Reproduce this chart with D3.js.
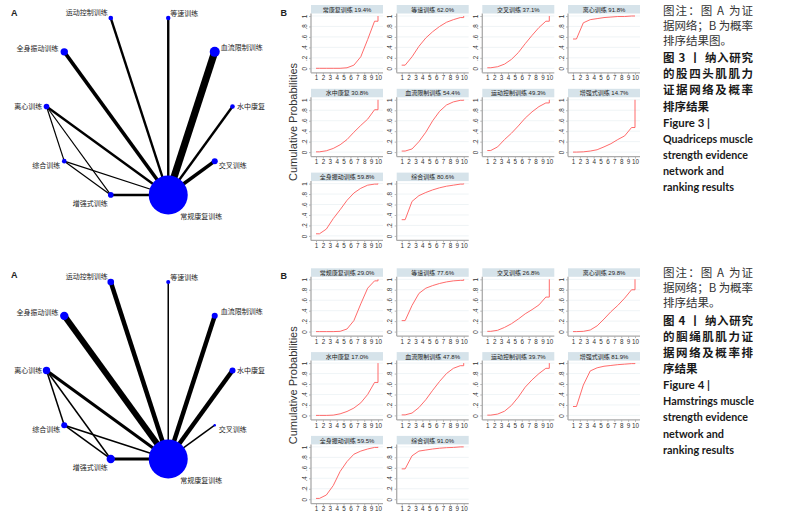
<!DOCTYPE html>
<html><head><meta charset="utf-8">
<script src="https://cdn.jsdelivr.net/npm/d3@7"></script>
<style>body{margin:0;background:#fff}svg{display:block}</style>
</head><body>
<svg id="c" width="804" height="522"></svg>
<script>
// ---------------- DATA ----------------
const nodeNames = ["运动控制训练","等速训练","血流限制训练","水中康复","交叉训练","常规康复训练","增强式训练","综合训练","离心训练","全身振动训练"];
// node weights (area ~ weight)
const nodeSize3 = [14,13,66,14,24,1000,21,14,21,36];
const nodeSize4 = [29,11,24,24,4,1000,46,24,36,46];
// edges: [source, target, number of studies]
const edges3 = [[5,0,2],[5,1,2],[5,2,6],[5,3,2],[5,4,3],[5,6,2],[5,7,1],[5,8,2],[5,9,3],[8,7,1],[8,6,1],[7,6,1]];
const edges4 = [[5,0,3],[5,1,1],[5,2,3],[5,3,3],[5,4,1],[5,6,2],[5,7,1],[5,8,2],[5,9,4],[8,7,1],[8,6,1],[7,6,1]];

const rankTicks = [1,2,3,4,5,6,7,8,9,10];
const probTicks = [0,0.2,0.4,0.6,0.8,1];
const probTickLabels = ["0",".2",".4",".6",".8","1"];

const sucraNames3 = ["常康复训练","等速训练","交叉训练","离心训练","水中康复","血流限制训练","运动控制训练","增强式训练","全身振动训练","综合训练"];
const sucra3 = [19.4,62.0,37.1,91.8,30.8,54.4,49.3,14.7,59.8,80.6];
const cum3 = [
 [0,0,0,0,0.01,0.06,0.22,0.55,0.90,1],
 [0.06,0.22,0.42,0.58,0.70,0.80,0.88,0.93,0.97,1],
 [0.01,0.03,0.08,0.17,0.30,0.47,0.63,0.78,0.90,1],
 [0.56,0.87,0.93,0.95,0.97,0.98,0.99,0.99,1.0,1],
 [0.005,0.025,0.07,0.14,0.24,0.38,0.51,0.63,0.81,1],
 [0.02,0.06,0.20,0.38,0.60,0.78,0.90,0.96,0.99,1],
 [0.03,0.10,0.24,0.36,0.50,0.65,0.77,0.87,0.94,1],
 [0,0.005,0.02,0.045,0.10,0.16,0.24,0.31,0.47,1],
 [0.04,0.13,0.33,0.50,0.68,0.82,0.91,0.97,0.99,1],
 [0.31,0.66,0.77,0.83,0.88,0.92,0.95,0.97,0.99,1]
];
const sucraNames4 = ["常规康复训练","等速训练","交叉训练","离心训练","水中康复","血流限制训练","运动控制训练","增强式训练","全身振动训练","综合训练"];
const sucra4 = [29.0,77.6,26.8,29.8,17.0,47.8,39.7,81.9,59.5,91.0];
const cum4 = [
 [0,0,0,0.005,0.05,0.21,0.53,0.83,0.97,1],
 [0.21,0.50,0.73,0.83,0.88,0.92,0.95,0.97,0.98,1],
 [0.005,0.025,0.08,0.15,0.24,0.34,0.42,0.51,0.66,1],
 [0,0.005,0.03,0.11,0.24,0.38,0.50,0.64,0.80,1],
 [0,0,0.005,0.03,0.075,0.14,0.24,0.40,0.63,1],
 [0.01,0.045,0.15,0.30,0.48,0.65,0.80,0.90,0.95,1],
 [0.005,0.025,0.08,0.19,0.35,0.54,0.68,0.80,0.90,1],
 [0.17,0.58,0.85,0.91,0.94,0.955,0.97,0.98,0.99,1],
 [0.015,0.08,0.26,0.53,0.72,0.86,0.92,0.96,0.99,1],
 [0.58,0.83,0.92,0.94,0.96,0.975,0.985,0.99,1.0,1]
];

const caption3 = ["图注：图 A 为证","据网络；B 为概率","排序结果图。","图 3 丨 纳入研究","的股四头肌肌力","证据网络及概率","排序结果","Figure 3  |","Quadriceps muscle","strength evidence","network and","ranking results"];
const caption4 = ["图注：图 A 为证","据网络；B 为概率","排序结果。","图 4 丨 纳入研究","的腘绳肌肌力证","据网络及概率排","序结果","Figure 4  |","Hamstrings muscle","strength evidence","network and","ranking results"];

// ---------------- LAYOUT / STYLE ----------------
const svg = d3.select("#c");
svg.append("rect").attr("width",804).attr("height",522).attr("fill","#fff");
const LAT = "'Liberation Sans', Arial, 'Noto Sans CJK SC', sans-serif";
const CJK = "'Noto Sans CJK SC', 'Liberation Sans', sans-serif";

// label offsets per node: [dx, dy(baseline), anchor]
const labelOff = [[-3,-3.2,"end"],[2,-2.5,"start"],[6,-1.7,"start"],[4.5,2.8,"start"],[4,6.5,"start"],[12,24.3,"start"],[-3,10.7,"end"],[-4,7,"end"],[-4.3,2.7,"end"],[-5.7,-1.3,"end"]];

function drawNetwork(cy, sizes, edges, wMax, wDomMax, yOff){
  const g = svg.append("g");
  const cx = 139.5, R = 93;
  const ang = d3.scaleLinear().domain([0,10]).range([-18,342]);
  const P = i => { const a = ang(i)*Math.PI/180; return [cx + R*Math.sin(a), cy - R*Math.cos(a)]; };
  const rS = d3.scaleSqrt().domain([0, d3.max(sizes)]).range([0,19.5]);
  const wS = d3.scaleLinear().domain([0, wDomMax]).range([0, wMax]);
  g.selectAll("line.e").data(edges).join("line")
    .attr("x1",d=>P(d[0])[0]).attr("y1",d=>P(d[0])[1])
    .attr("x2",d=>P(d[1])[0]).attr("y2",d=>P(d[1])[1])
    .attr("stroke","#000").attr("stroke-width",d=>wS(d[2]));
  g.selectAll("circle").data(sizes).join("circle")
    .attr("cx",(d,i)=>P(i)[0]).attr("cy",(d,i)=>P(i)[1]).attr("r",d=>rS(d)).attr("fill","#0000ff");
  g.selectAll("text.n").data(nodeNames).join("text")
    .attr("x",(d,i)=>P(i)[0]+labelOff[i][0]).attr("y",(d,i)=>P(i)[1]+labelOff[i][1])
    .attr("text-anchor",(d,i)=>labelOff[i][2])
    .attr("font-family",CJK).attr("font-size",7).attr("fill","#222").text(d=>d);
  svg.append("text").attr("x",11).attr("y",15.7+yOff).attr("font-family",LAT).attr("font-weight","bold")
    .attr("font-size",9).attr("fill","#222").text("A");
}

function drawB(yOff, names, sucra, cum){
  const g = svg.append("g");
  const colX0 = [316,401.7,487.3,573];
  const rowY1 = [16,99.8,183.6].map(v=>v+yOff);
  names.forEach((nm,i)=>{
    const x0 = colX0[i%4], y1 = rowY1[Math.floor(i/4)];
    const x = d3.scaleLinear().domain([1,10]).range([x0, x0+62]);
    const y = d3.scaleLinear().domain([0,1]).range([y1+52.3, y1]);
    const axX = x0-5, axY = y(0)+4.5, right = x0+67;
    const p = g.append("g");
    p.selectAll("line.grid").data(probTicks).join("line")
      .attr("x1",axX).attr("x2",right).attr("y1",d=>y(d)).attr("y2",d=>y(d))
      .attr("stroke","#e4ecf0").attr("stroke-width",0.6);
    // title bar
    p.append("rect").attr("x",axX).attr("y",y1-11).attr("width",right-axX).attr("height",8.5).attr("fill","#d6e3ea");
    p.append("text").attr("x",(axX+right)/2).attr("y",y1-4.4).attr("text-anchor","middle")
      .attr("font-family",LAT).attr("font-size",6).attr("fill","#222").text(nm+" "+sucra[i].toFixed(1)+"%");
    // axes
    const xa = p.append("g").attr("transform",`translate(0,${axY})`)
      .call(d3.axisBottom(x).tickValues(rankTicks).tickSize(2).tickPadding(1.2).tickFormat(d3.format("d")));
    const ya = p.append("g").attr("transform",`translate(${axX},0)`)
      .call(d3.axisLeft(y).tickValues(probTicks).tickSize(2).tickFormat((d,k)=>probTickLabels[k]));
    [xa,ya].forEach(a=>{a.select(".domain").remove(); a.selectAll("line").attr("stroke","#999").attr("stroke-width",0.7);
      a.selectAll("text").attr("font-family",LAT).attr("font-size",6.3).attr("fill","#333");});
    ya.selectAll("text").attr("x",null).attr("dy",null).attr("transform","rotate(-90)")
      .attr("text-anchor","middle").attr("y",-4.3);
    p.append("line").attr("x1",axX).attr("x2",right).attr("y1",axY).attr("y2",axY).attr("stroke","#aaa").attr("stroke-width",1.3);
    p.append("line").attr("x1",axX).attr("x2",axX).attr("y1",y1-2.5).attr("y2",axY).attr("stroke","#aaa").attr("stroke-width",1.3);
    // curve
    const c = cum[i];
    const pts = [[1,c[0]]].concat(c.slice(0,9).map((v,k)=>[k+1.5,v])).concat([[10,c[8]],[10,c[9]]]);
    p.append("path").attr("d",d3.line().x(d=>x(d[0])).y(d=>y(d[1]))(pts))
      .attr("fill","none").attr("stroke","#ff5a5a").attr("stroke-width",0.9);
  });
  svg.append("text").attr("transform",`translate(297,${122+yOff}) rotate(-90)`).attr("text-anchor","middle")
    .attr("font-family",LAT).attr("font-size",11).attr("fill","#333").text("Cumulative Probabilities");
  svg.append("text").attr("x",280.5).attr("y",15.5+yOff).attr("font-family",LAT).attr("font-weight","bold")
    .attr("font-size",9).attr("fill","#222").text("B");
}

function drawCaption(yOff, lines, widths){
  const centers = [10.7,25.7,40.7,58,74,90,106.5,122.5,138.5,154.5,171,187];
  lines.forEach((t,i)=>{
    const en = i>=7;
    const tx = svg.append("text").attr("x",663).attr("y",centers[i]+yOff+(en?4:4.1))
      .attr("font-family", en ? "Lato, 'Open Sans', sans-serif" : CJK)
      .attr("font-size", en?11:11.5).attr("font-weight", i>=3 ? "bold" : "normal")
      .attr("fill", i>=3 ? "#1a1a1a" : "#333").text(t);
    if (widths[i]) tx.attr("textLength",widths[i]).attr("lengthAdjust", en ? "spacingAndGlyphs" : "spacing");
  });
}

drawNetwork(106.5, nodeSize3, edges3, 7.2, 6, 0);
drawNetwork(370.5, nodeSize4, edges4, 6, 4, 262.3);
drawB(0, sucraNames3, sucra3, cum3);
drawB(263.3, sucraNames4, sucra4, cum4);
drawCaption(0, caption3, [90,90,0,90,90,90,0,47,90,85,61,71]);
drawCaption(262.5, caption4, [90,90,0,90,90,90,0,47,91,85,61,71]);
</script>
</body></html>
